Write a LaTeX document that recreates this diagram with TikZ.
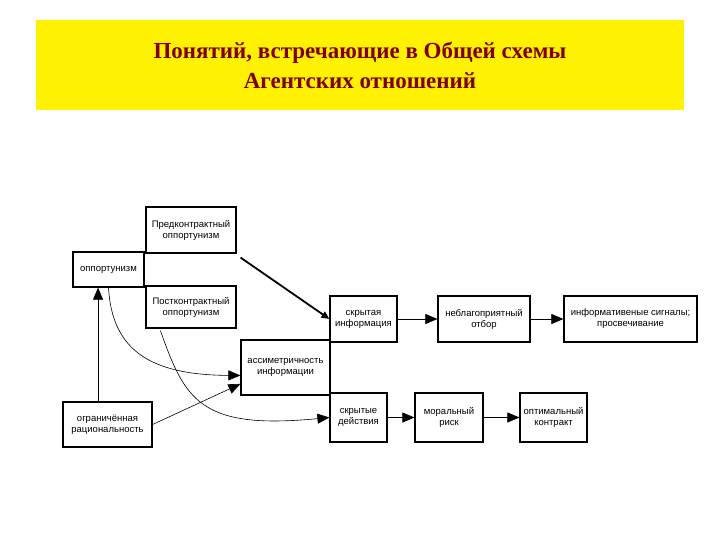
\documentclass[tikz,border=0pt]{standalone}
\usepackage{fontspec}
\setmainfont{Liberation Serif}
\newfontfamily\boxfont{Liberation Sans}
\usetikzlibrary{positioning,arrows.meta}
\begin{document}
\begin{tikzpicture}[x=1pt,y=-1pt,>={Triangle[length=12pt,width=10pt]},
    box/.style={draw, line width=1.2pt, align=center, inner sep=1pt,
        font=\boxfont\fontsize{9.5}{11}\selectfont},
    link/.style={->, line width=0.6pt}]
    \useasboundingbox (0,0) rectangle (720,540);
    % Title
    \node [fill=yellow, minimum width=648pt, minimum height=90pt,
        font=\bfseries\fontsize{23}{30}\selectfont, text=red!50!black, align=center
    ]  (Title) at (360,65) {Понятий, встречающие в Общей схемы\\Агентских отношений};
    % left column
    \node [box, minimum width=71pt, minimum height=35pt] (Opport) at (108.5,269.5) {оппортунизм};
    \node [box, minimum width=90pt, minimum height=46pt] (PreK) at (191,230) {Предконтрактный\\оппортунизм};
    \node [box, minimum width=90pt, minimum height=42pt] (PostK) at (191,307) {Постконтрактный\\оппортунизм};
    \node [box, minimum width=89pt, minimum height=55pt] (Asym) at (285.5,367.5) {ассиметричность\\информации};
    \node [box, minimum width=89pt, minimum height=45pt] (Ogran) at (107.5,424.5) {ограничённая\\рациональность};
    % upper chain
    \node [box, minimum width=67pt, minimum height=46pt] (HidInfo) at (363.5,319) {скрытая\\информация};
    \node [box, minimum width=92pt, minimum height=46pt] (Adverse) at (484,319) {неблагоприятный\\отбор};
    \node [box, minimum width=133pt, minimum height=46pt] (Signal) at (630.5,319) {информативеные сигналы;\\просвечивание};
    % lower chain
    \node [box, minimum width=57pt, minimum height=49pt] (HidAct) at (358.5,417.5) {скрытые\\действия};
    \node [box, minimum width=68pt, minimum height=49pt] (Moral) at (449,417.5) {моральный\\риск};
    \node [box, minimum width=67pt, minimum height=49pt] (Optim) at (553.5,417.5) {оптимальный\\контракт};
    % connectors
    \coordinate (PreKout) at ([shift={(4,4)}]PreK.south east);
    \coordinate (PostKout) at ([shift={(15,2)}]PostK.south west);
    \draw[->, line width=1.8pt, >={Triangle[length=8pt,width=7pt]}] (PreKout) -- (HidInfo.west);
    \draw[link] (Ogran.north -| Opport.240) -- (Opport.240);
    \draw[link] (Opport.south) .. controls (112,350) and (150,375) .. (Asym.190);
    \draw[link] (Ogran.east) -- (Asym.200);
    \draw[link] (PostKout) .. controls (185,400) and (200,430) .. (HidAct.west);
    \draw[link] (HidInfo) -- (Adverse);
    \draw[link] (Adverse) -- (Signal);
    \draw[link] (HidAct) -- (Moral);
    \draw[link] (Moral) -- (Optim);
\end{tikzpicture}
\end{document}
